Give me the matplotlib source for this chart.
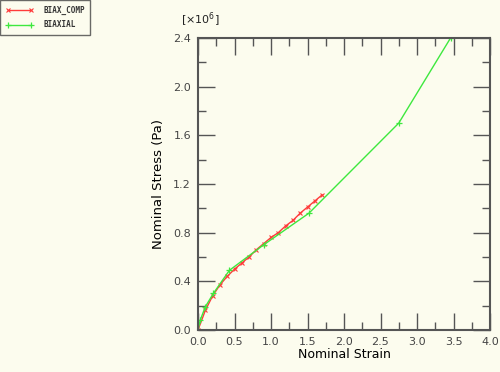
import matplotlib
matplotlib.use("Agg")
import matplotlib.pyplot as plt
from matplotlib.ticker import MultipleLocator
from matplotlib.lines import Line2D

# Data (stress in units of 1e6 Pa)
comp_strain = [0.0, 0.1, 0.2, 0.3, 0.4, 0.5, 0.6, 0.7, 0.8, 0.9, 1.0, 1.1, 1.2, 1.3, 1.4, 1.5, 1.6, 1.7]
comp_stress = [0.0, 0.16, 0.28, 0.37, 0.44, 0.50, 0.55, 0.60, 0.66, 0.71, 0.76, 0.80, 0.855, 0.90, 0.96, 1.01, 1.06, 1.11]

biax_strain = [0.0, 0.03, 0.1, 0.21, 0.43, 0.9, 1.52, 2.75, 3.46]
biax_stress = [0.0, 0.08, 0.19, 0.30, 0.49, 0.70, 0.96, 1.70, 2.40]

xticks = [0.0, 0.5, 1.0, 1.5, 2.0, 2.5, 3.0, 3.5, 4.0]
yticks = [0.0, 0.4, 0.8, 1.2, 1.6, 2.0, 2.4]
legend_labels = ["BIAX_COMP", "BIAXIAL"]

bg = "#fcfcee"
red = "#ff3b3b"
green = "#3ee83e"
spine_c = "#555555"

fig = plt.figure(figsize=(5.0, 3.72), dpi=100, facecolor=bg)
ax = fig.add_axes([0.396, 0.113, 0.584, 0.785])
ax.set_facecolor(bg)

ax.plot(comp_strain, comp_stress, color=red, lw=1.0, marker="x", ms=3.2, mew=0.8)
ax.plot(biax_strain, biax_stress, color=green, lw=1.0, marker="+", ms=4, mew=0.9)

ax.set_xlim(0, 4.0)
ax.set_ylim(0, 2.4)
ax.set_xticks(xticks)
ax.set_yticks(yticks)
ax.set_xticklabels([f"{v:.1f}" for v in xticks])
ax.set_yticklabels([f"{v:.1f}" for v in yticks])
ax.xaxis.set_minor_locator(MultipleLocator(0.25))
ax.yaxis.set_minor_locator(MultipleLocator(0.2))
ax.tick_params(which="both", direction="in", top=True, right=True, color=spine_c,
               labelsize=8, labelcolor="#444444")
ax.tick_params(which="major", length=12, width=1.0, pad=5)
ax.tick_params(which="minor", length=6, width=1.0)
for s in ax.spines.values():
    s.set_color(spine_c)
    s.set_linewidth(1.5)

ax.set_xlabel("Nominal Strain", fontsize=9, labelpad=1)
ax.set_ylabel("Nominal Stress (Pa)", fontsize=9.5, labelpad=6)

fig.text(0.362, 0.948, r"[$\times$10$^6$]", fontsize=8, color="#222222", va="center")

handles = [Line2D([], [], color=red, lw=1.0, marker="x", ms=3.2, mew=0.8),
           Line2D([], [], color=green, lw=1.0, marker="+", ms=4, mew=0.9)]
leg = fig.legend(handles, legend_labels, loc="upper left", bbox_to_anchor=(0.0, 1.0),
                 prop={"family": "DejaVu Sans Mono", "size": 5.5, "weight": "bold"},
                 frameon=True, fancybox=False, edgecolor="#444444", facecolor=bg,
                 numpoints=2, handlelength=3.6, handletextpad=1.3, borderpad=0.7,
                 labelspacing=0.7, borderaxespad=0.05)
leg.get_frame().set_linewidth(1.0)
for t in leg.get_texts():
    t.set_color("#333333")

fig.savefig("out.png", dpi=100, facecolor=bg)
